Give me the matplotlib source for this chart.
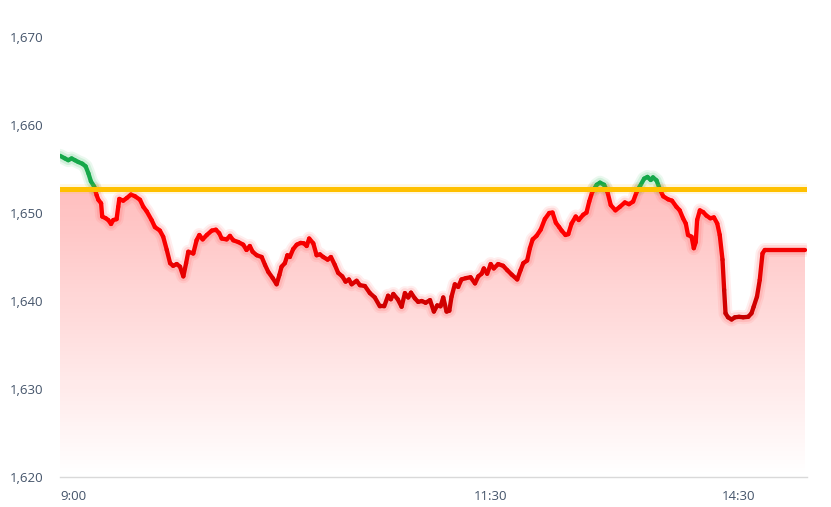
import numpy as np
import matplotlib
matplotlib.use("Agg")
import matplotlib.pyplot as plt
from matplotlib.collections import LineCollection
from matplotlib.colors import to_rgba
from matplotlib.ticker import FuncFormatter

# trading minutes since 9:00 (lunch break removed: 11:30 -> 150, 14:30 -> 240)
session_min = [0, 1.8, 3.0, 4.2, 5.4, 6.6, 8.1, 9.3, 10.3, 11.2, 12.4, 13.3, 13.9, 14.9, 15.3,
               16.6, 17.5, 18.5, 19.3, 20.5, 21.1, 21.5, 22.9, 24.2, 25.7, 27.2, 29.0, 30.2,
               31.4, 33.2, 34.4, 36.2, 37.4, 38.7, 39.9, 41.0, 42.3, 43.5, 44.7, 45.7, 46.5,
               48.3, 49.5, 50.5, 51.7, 53.2, 55.0, 56.5, 57.7, 58.6, 60.4, 61.6, 62.8, 64.6,
               66.4, 67.6, 68.8, 69.8, 71.3, 73.1, 74.3, 75.5, 77.1, 78.5, 79.5, 80.3, 81.5,
               82.4, 83.3, 84.5, 85.8, 87.2, 88.4, 89.4, 90.3, 91.8, 93.0, 94.2, 95.4, 97.0,
               98.2, 99.6, 100.8, 102.3, 103.5, 104.7, 105.7, 107.5, 108.7, 110.5, 112.3,
               114.1, 115.9, 117.5, 118.9, 119.9, 120.8, 122.4, 123.8, 125.0, 126.2, 127.2,
               128.6, 129.8, 131.1, 132.5, 134.1, 135.5, 136.7, 137.9, 138.9, 140.1, 141.1,
               141.9, 143.1, 144.3, 145.5, 147.1, 148.8, 150.4, 151.6, 152.8, 153.6, 154.8,
               156.1, 157.2, 158.8, 160.6, 162.1, 163.7, 165.7, 166.9, 167.9, 169.3, 170.3,
               171.3, 172.7, 174.2, 175.7, 177.3, 178.5, 179.7, 180.9, 181.8, 183.2, 184.2,
               185.4, 186.9, 188.0, 189.6, 190.8, 191.8, 192.9, 194.5, 195.7, 197.2, 198.4,
               199.6, 201.3, 202.9, 204.7, 206.2, 207.7, 209.0, 210.1, 211.7, 212.9, 214.1,
               214.9, 216.2, 217.4, 218.6, 220.4, 221.8, 223.4, 224.6, 225.8, 226.8, 227.6,
               228.9, 229.7, 230.4, 230.9, 231.9, 233.1, 234.3, 235.7, 237.0, 238.2, 239.1,
               240.1, 240.7, 241.2, 242.1, 243.4, 244.6, 246.1, 247.6, 249.4, 250.6, 251.4,
               252.6, 253.6, 254.6, 255.4, 270.0]
index_val = [1656.5, 1656.2, 1656.0, 1656.2, 1656.0, 1655.8, 1655.6, 1655.3, 1654.5, 1653.6,
             1653.0, 1652.0, 1651.5, 1651.1, 1649.6, 1649.4, 1649.2, 1648.75, 1649.2, 1649.3,
             1650.7, 1651.6, 1651.4, 1651.7, 1652.1, 1651.9, 1651.5, 1650.7, 1650.2, 1649.2,
             1648.4, 1648.0, 1647.3, 1645.8, 1644.3, 1644.0, 1644.2, 1643.9, 1642.8, 1644.3,
             1645.6, 1645.4, 1646.9, 1647.5, 1647.0, 1647.5, 1648.0, 1648.1, 1647.7, 1647.1,
             1647.0, 1647.4, 1646.9, 1646.7, 1646.4, 1645.8, 1646.25, 1645.6, 1645.2, 1645.0,
             1644.1, 1643.3, 1642.6, 1641.9, 1642.95, 1643.9, 1644.3, 1645.2, 1645.0, 1645.9,
             1646.4, 1646.6, 1646.55, 1646.25, 1647.1, 1646.55, 1645.2, 1645.3, 1645.0, 1644.7,
             1645.0, 1644.1, 1643.2, 1642.8, 1642.2, 1642.45, 1641.9, 1642.3, 1641.8, 1641.7,
             1640.9, 1640.4, 1639.4, 1639.4, 1640.6, 1640.2, 1640.8, 1640.2, 1639.35, 1640.9,
             1640.4, 1640.95, 1640.3, 1639.9, 1640.0, 1639.8, 1640.1, 1638.8, 1639.5, 1639.4,
             1640.4, 1638.8, 1638.9, 1640.5, 1641.9, 1641.6, 1642.45, 1642.6, 1642.7, 1642.0,
             1642.8, 1643.1, 1643.7, 1643.1, 1644.2, 1643.7, 1644.2, 1644.0, 1643.5, 1643.0,
             1642.45, 1643.5, 1644.3, 1644.6, 1646.0, 1647.0, 1647.4, 1648.1, 1649.3, 1650.0,
             1650.05, 1648.9, 1648.4, 1648.0, 1647.5, 1647.6, 1648.8, 1649.6, 1649.2, 1649.8,
             1650.05, 1651.3, 1652.4, 1653.2, 1653.45, 1653.2, 1652.4, 1650.9, 1650.3, 1650.7,
             1651.2, 1651.0, 1651.3, 1652.4, 1653.0, 1653.9, 1654.1, 1653.75, 1654.05, 1653.7,
             1652.7, 1651.9, 1651.55, 1651.4, 1650.7, 1650.3, 1649.4, 1648.8, 1647.5, 1647.3,
             1646.0, 1646.7, 1649.2, 1650.3, 1650.1, 1649.7, 1649.4, 1649.5, 1648.8, 1647.5,
             1644.7, 1641.25, 1638.6, 1638.15, 1637.9, 1638.15, 1638.2, 1638.15, 1638.2,
             1638.6, 1639.35, 1640.5, 1642.4, 1645.4, 1645.8, 1645.8]
reference = 1652.75
y_ticks = [1620, 1630, 1640, 1650, 1660, 1670]
x_tick_pos = [0, 150, 240]
x_tick_labels = ["9:00", "11:30", "14:30"]

plt.rcParams["font.family"] = ["Open Sans", "DejaVu Sans"]

fig = plt.figure(figsize=(8.31, 5.07), dpi=100)
ax = fig.add_axes([60 / 831, 30 / 507, 747 / 831, 440 / 507])

t = np.array(session_min, float)
v = np.array(index_val, float)

# insert crossing points with the reference level
xs, ys = [t[0]], [v[0]]
for i in range(1, len(t)):
    a, b = v[i - 1] - reference, v[i] - reference
    if a * b < 0:
        f = a / (a - b)
        xs.append(t[i - 1] + f * (t[i] - t[i - 1]))
        ys.append(reference)
    xs.append(t[i])
    ys.append(v[i])
xs, ys = np.array(xs), np.array(ys)

# gradient fill below the line (capped at reference)
poly = ax.fill_between(xs, np.minimum(ys, reference), 1620, color="none", lw=0)
n = 256
frac = np.linspace(0, 1, n)
rgba = np.zeros((n, 1, 4))
rgba[..., 0] = 1.0
rgba[..., 1] = 0.05
rgba[..., 2] = 0.05
rgba[:, 0, 3] = 0.27 * frac
im = ax.imshow(rgba, extent=[xs[0], xs[-1], 1620, reference], origin="lower",
               aspect="auto", zorder=1, interpolation="bilinear")
im.set_clip_path(poly.get_paths()[0], transform=ax.transData)

# soft glow as continuous lines (no overlap build-up)
red_y = np.where(ys <= reference + 1e-9, ys, np.nan)
green_y = np.where(ys >= reference - 1e-9, ys, np.nan)
for w, a in [(10, 0.10), (7, 0.16)]:
    ax.plot(xs, red_y, color="#ff5a5a", lw=w, alpha=a, solid_capstyle="round",
            solid_joinstyle="round", zorder=2)
    ax.plot(xs, green_y, color="#3cc46a", lw=w, alpha=a, solid_capstyle="round",
            solid_joinstyle="round", zorder=2)

# line segments coloured by side of reference
segs = np.stack([np.column_stack([xs[:-1], ys[:-1]]),
                 np.column_stack([xs[1:], ys[1:]])], axis=1)
mid = (ys[:-1] + ys[1:]) / 2
bright = np.array(to_rgba("#ff0000"))
dark = np.array(to_rgba("#c00000"))
green = np.array(to_rgba("#15a84a"))
cols = []
for m in mid:
    if m > reference + 1e-9:
        cols.append(green)
    else:
        k = np.clip((1648 - m) / (1648 - 1637), 0, 1)
        cols.append(bright * (1 - k) + dark * k)
cols = np.array(cols)
ax.add_collection(LineCollection(segs, colors=cols, linewidths=3.1, capstyle="round",
                                 joinstyle="round", zorder=3))

# reference line
ax.axhline(reference, color="#ffc000", lw=7, alpha=0.12, zorder=4)
ax.axhline(reference, color="#ffc000", lw=3.6, zorder=5)

ax.set_xlim(0, 270 * 747 / 745)
ax.set_ylim(1620, 1670)
ax.set_yticks(y_ticks)
ax.yaxis.set_major_formatter(FuncFormatter(lambda val, p: f"{val:,.0f}"))
ax.set_xticks(x_tick_pos)
ax.set_xticklabels(x_tick_labels)
for lbl in ax.get_xticklabels():
    lbl.set_horizontalalignment("left")

ax.tick_params(axis="both", length=0, colors="#44546a", labelsize=9.5)
ax.tick_params(axis="y", pad=12)
ax.tick_params(axis="x", pad=9)
for s in ["top", "right", "left"]:
    ax.spines[s].set_visible(False)
ax.spines["bottom"].set_color("#d9d9d9")
ax.spines["bottom"].set_linewidth(1)
ax.spines["bottom"].set_zorder(6)

fig.savefig("out.png", dpi=100)
